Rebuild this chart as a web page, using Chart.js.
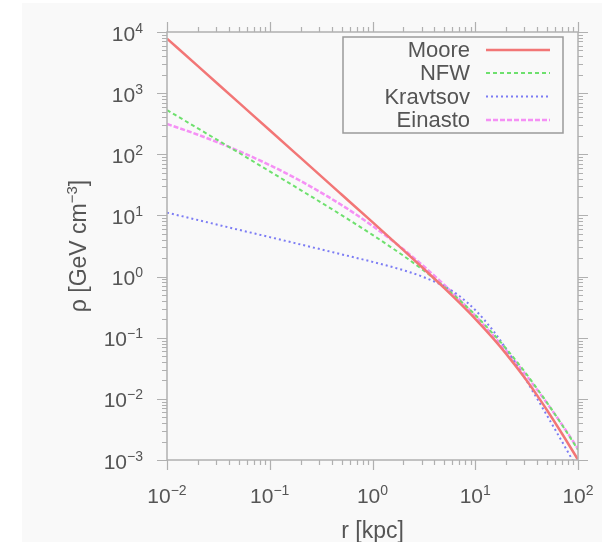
<!DOCTYPE html>
<html>
<head>
<meta charset="utf-8">
<title>Dark matter density profiles</title>
<script src="https://cdn.jsdelivr.net/npm/chart.js@4.4.0/dist/chart.umd.min.js"></script>
<style>
    html, body { margin: 0; padding: 0; background: #fff; }
    #wrap { width: 602px; height: 542px; }
</style>
</head>
<body>
<div id="wrap"><canvas id="profileChart" width="602" height="542"></canvas></div>
<script>
// Galactocentric radius r [kpc]
const radii = [0.01, 0.02, 0.05, 0.1, 0.2, 0.5, 1, 2, 3, 5, 7, 10, 15, 20, 30, 40, 50, 70, 100];

// Density rho [GeV cm^-3] for each profile
const moore    = [7800, 2760, 698, 247, 87.2, 22.0, 7.76, 2.71, 1.45, 0.649, 0.375, 0.204, 0.0966, 0.0544, 0.0225, 0.0114, 0.00652, 0.00269, 0.00101];
const nfw      = [530, 265, 106, 52.5, 26.0, 10.1, 4.81, 2.19, 1.34, 0.678, 0.415, 0.236, 0.115, 0.0663, 0.0283, 0.0147, 0.00865, 0.00374, 0.00147];
const kravtsov = [11.1, 8.41, 5.82, 4.42, 3.35, 2.31, 1.74, 1.27, 1.01, 0.691, 0.481, 0.284, 0.129, 0.0655, 0.0226, 0.0101, 0.00532, 0.00199, 0.00069];
const einasto  = [313, 209, 113, 66.5, 36.6, 14.8, 6.74, 2.79, 1.58, 0.729, 0.422, 0.228, 0.108, 0.0616, 0.0266, 0.0141, 0.00848, 0.00378, 0.00152];

const seriesNames = ['Moore', 'NFW', 'Kravtsov', 'Einasto'];

// Axis decades (tick labels are 10^n)
const xDecades = [-2, -1, 0, 1, 2];
const yDecades = [-3, -2, -1, 0, 1, 2, 3, 4];

const TEXT_COLOR = '#555555';
const AXIS_COLOR = '#b0b0b0';
const FONT = "'Liberation Sans', Arial, Helvetica, sans-serif";

function toPoints(values) {
    return radii.map((r, i) => ({ x: r, y: values[i] }));
}

function expText(n) {
    return n < 0 ? '\u2212' + Math.abs(n) : String(n);
}

// draws "10" with a raised exponent; align is 'right' or 'center'
function drawPower(ctx, base, exp, x, y, align, size, supSize, rise) {
    ctx.font = size + 'px ' + FONT;
    const wb = ctx.measureText(base).width;
    ctx.font = supSize + 'px ' + FONT;
    const ws = ctx.measureText(exp).width;
    const total = wb + ws;
    let x0 = x;
    if (align === 'right') x0 = x - total;
    else if (align === 'center') x0 = x - total / 2;
    ctx.textAlign = 'left';
    ctx.textBaseline = 'alphabetic';
    ctx.font = size + 'px ' + FONT;
    ctx.fillText(base, x0, y);
    ctx.font = supSize + 'px ' + FONT;
    ctx.fillText(exp, x0 + wb, y - rise);
}

function tickValues(decades) {
    const vals = [];
    for (let i = 0; i < decades.length; i++) {
        const p = Math.pow(10, decades[i]);
        vals.push({ v: p, major: true });
        if (i < decades.length - 1) {
            for (let m = 2; m <= 9; m++) vals.push({ v: m * p, major: false });
        }
    }
    return vals;
}

const framePlugin = {
    id: 'frame',
    beforeDraw(chart) {
        const ctx = chart.ctx;
        ctx.save();
        ctx.fillStyle = '#ffffff';
        ctx.fillRect(0, 0, chart.width, chart.height);
        ctx.fillStyle = '#f9f9f9';
        ctx.fillRect(22, 3, chart.width - 22, chart.height - 3);
        ctx.restore();
    },
    afterDraw(chart) {
        const { ctx, chartArea: a, scales: { x, y } } = chart;
        ctx.save();

        // box around the plot
        ctx.strokeStyle = AXIS_COLOR;
        ctx.lineWidth = 1.5;
        ctx.strokeRect(a.left, a.top, a.right - a.left, a.bottom - a.top);

        // outward ticks on all four sides
        ctx.beginPath();
        tickValues(xDecades).forEach(t => {
            const px = Math.round(x.getPixelForValue(t.v)) + 0.5;
            const len = t.major ? 10 : 5;
            ctx.moveTo(px, a.bottom); ctx.lineTo(px, a.bottom + len);
            ctx.moveTo(px, a.top); ctx.lineTo(px, a.top - len);
        });
        tickValues(yDecades).forEach(t => {
            const py = Math.round(y.getPixelForValue(t.v)) + 0.5;
            const len = t.major ? 10 : 5;
            ctx.moveTo(a.left, py); ctx.lineTo(a.left - len, py);
            ctx.moveTo(a.right, py); ctx.lineTo(a.right + len, py);
        });
        ctx.lineWidth = 1.2;
        ctx.stroke();

        // tick labels
        ctx.fillStyle = TEXT_COLOR;
        xDecades.forEach(n => {
            const px = x.getPixelForValue(Math.pow(10, n));
            drawPower(ctx, '10', expText(n), px, a.bottom + 43, 'center', 21, 14, 8);
        });
        yDecades.forEach(n => {
            const py = y.getPixelForValue(Math.pow(10, n));
            drawPower(ctx, '10', expText(n), a.left - 24, py + 8.5, 'right', 21, 14, 8);
        });

        // axis titles
        ctx.font = '23px ' + FONT;
        ctx.textAlign = 'center';
        ctx.textBaseline = 'alphabetic';
        ctx.fillText('r [kpc]', (a.left + a.right) / 2, 538);

        ctx.save();
        ctx.translate(86, 246);
        ctx.rotate(-Math.PI / 2);
        ctx.font = '23px ' + FONT;
        const w1 = ctx.measureText('\u03c1 [GeV cm').width;
        const w3 = ctx.measureText(']').width;
        ctx.font = '15px ' + FONT;
        const w2 = ctx.measureText('\u22123').width;
        let sx = -(w1 + w2 + w3) / 2;
        ctx.textAlign = 'left';
        ctx.font = '23px ' + FONT;
        ctx.fillText('\u03c1 [GeV cm', sx, 0);
        ctx.font = '15px ' + FONT;
        ctx.fillText('\u22123', sx + w1, -9);
        ctx.font = '23px ' + FONT;
        ctx.fillText(']', sx + w1 + w2, 0);
        ctx.restore();

        // legend: text on the left, line sample on the right
        ctx.strokeStyle = '#9a9a9a';
        ctx.lineWidth = 1.5;
        ctx.strokeRect(343, 37, 220, 96);
        const rows = [50, 73, 96.5, 120];
        chart.data.datasets.forEach((ds, i) => {
            ctx.fillStyle = TEXT_COLOR;
            ctx.font = '22px ' + FONT;
            ctx.textAlign = 'right';
            ctx.textBaseline = 'middle';
            ctx.fillText(ds.label, 470, rows[i] + 1);
            ctx.strokeStyle = ds.borderColor;
            ctx.lineWidth = ds.borderWidth;
            ctx.setLineDash(ds.borderDash || []);
            ctx.beginPath();
            ctx.moveTo(486, rows[i]);
            ctx.lineTo(550, rows[i]);
            ctx.stroke();
            ctx.setLineDash([]);
        });

        ctx.restore();
    }
};

const chart = new Chart(document.getElementById('profileChart').getContext('2d'), {
    type: 'line',
    data: {
        datasets: [
            { label: seriesNames[0], data: toPoints(moore), borderColor: '#f27676', borderWidth: 2.5 },
            { label: seriesNames[1], data: toPoints(nfw), borderColor: '#6ee06e', borderWidth: 2, borderDash: [4, 3] },
            { label: seriesNames[2], data: toPoints(kravtsov), borderColor: '#7c7cf4', borderWidth: 2, borderDash: [2, 3] },
            { label: seriesNames[3], data: toPoints(einasto), borderColor: '#f590f5', borderWidth: 2.5, borderDash: [5, 2] }
        ]
    },
    options: {
        responsive: false,
        devicePixelRatio: 1,
        animation: false,
        layout: { padding: { top: 32, right: 24, left: 0, bottom: 0 } },
        elements: {
            point: { radius: 0 },
            line: { cubicInterpolationMode: 'monotone', fill: false }
        },
        scales: {
            x: {
                type: 'logarithmic',
                min: 0.01,
                max: 100,
                ticks: { display: false },
                grid: { display: false },
                border: { display: false },
                afterFit(scale) { scale.height = 82; }
            },
            y: {
                type: 'logarithmic',
                min: 0.001,
                max: 10000,
                ticks: { display: false },
                grid: { display: false },
                border: { display: false },
                afterFit(scale) { scale.width = 167; }
            }
        },
        plugins: {
            legend: { display: false },
            tooltip: { enabled: false }
        }
    },
    plugins: [framePlugin]
});
</script>
</body>
</html>
